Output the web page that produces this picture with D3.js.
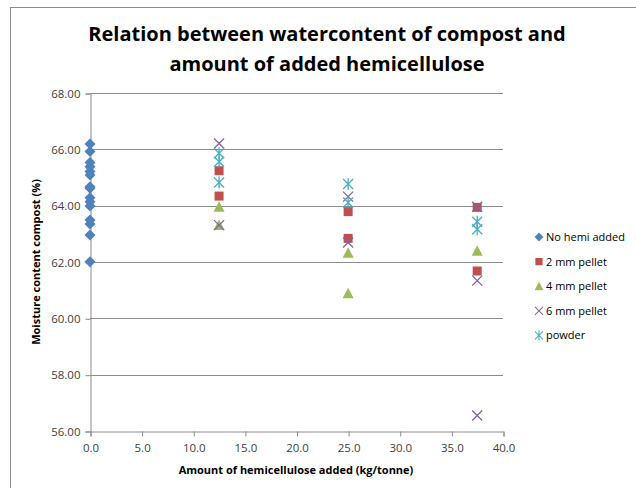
<!DOCTYPE html>
<html>
<head>
<meta charset="utf-8">
<script src="https://cdn.jsdelivr.net/npm/d3@7"></script>
<style>
  body { margin: 0; background: #fff; }
  svg { display: block; font-family: "Open Sans", "Liberation Sans", sans-serif; }
</style>
</head>
<body>
<div id="chart"></div>
<script>
const width = 636;
const height = 488;

// data
const seriesNames = ["No hemi added", "2 mm pellet", "4 mm pellet", "6 mm pellet", "powder"];
const seriesColors = ["#4F81BD", "#C0504D", "#9BBB59", "#8064A2", "#4BACC6"];
const seriesShapes = ["diamond", "square", "triangle", "x", "star"];

const noHemi = [[0, 66.19], [0, 65.92], [0, 65.53], [0, 65.38], [0, 65.21], [0, 65.09], [0, 64.67], [0, 64.62],
  [0, 64.28], [0, 64.14], [0, 63.99], [0, 63.49], [0, 63.35], [0, 62.96], [0, 62.01]];
const pellet2 = [[12.5, 65.24], [12.5, 64.34], [25, 63.79], [25, 62.84], [37.5, 63.94], [37.5, 61.68]];
const pellet4 = [[12.5, 63.96], [12.5, 63.31], [25, 62.33], [25, 60.89], [37.5, 62.40]];
const pellet6 = [[12.5, 66.21], [12.5, 63.31], [25, 64.32], [25, 62.69], [37.5, 63.96], [37.5, 61.34], [37.5, 56.55]];
const powder = [[12.5, 65.86], [12.5, 65.56], [12.5, 64.82], [25, 64.77], [25, 64.11], [37.5, 63.43], [37.5, 63.16]];
const allSeries = [noHemi, pellet2, pellet4, pellet6, powder];

const xTicks = [0, 5, 10, 15, 20, 25, 30, 35, 40];
const yTicks = [56, 58, 60, 62, 64, 66, 68];

const margin = { left: 90, right: 133, top: 93, bottom: 57 };

const svg = d3.select("#chart").append("svg")
    .attr("width", width)
    .attr("height", height);

// outer chart frame
svg.append("rect")
    .attr("x", 10.5).attr("y", 7.5)
    .attr("width", 640).attr("height", 500)
    .attr("fill", "none").attr("stroke", "#8c8c8c");

const x = d3.scaleLinear().domain([0, 40]).range([margin.left, width - margin.right]);
const y = d3.scaleLinear().domain([56, 68]).range([height - margin.bottom, margin.top]);

// gridlines
svg.append("g").selectAll("line")
    .data(yTicks.slice(1))
    .join("line")
    .attr("x1", margin.left).attr("x2", width - margin.right)
    .attr("y1", d => Math.round(y(d)) + 0.5).attr("y2", d => Math.round(y(d)) + 0.5)
    .attr("stroke", "#8c8c8c");

const yAxis = svg.append("g")
    .attr("transform", `translate(${margin.left + 0.5},0.5)`)
    .call(d3.axisLeft(y).tickValues(yTicks).tickSize(5).tickPadding(5).tickFormat(d3.format(".2f")));
const xAxis = svg.append("g")
    .attr("transform", `translate(0.5,${height - margin.bottom + 0.5})`)
    .call(d3.axisBottom(x).tickValues(xTicks).tickSize(5).tickPadding(7).tickFormat(d3.format(".1f")));

[xAxis, yAxis].forEach(a => {
  a.select(".domain").attr("stroke", "#8c8c8c");
  a.selectAll(".tick line").attr("stroke", "#8c8c8c");
  a.selectAll("text").attr("font-size", 11.5).attr("fill", "#404040")
      .attr("font-family", "'Open Sans', sans-serif");
});

function drawMarker(g, shape, color) {
  if (shape === "diamond") {
    g.append("path").attr("d", "M0,-5.5L5.5,0L0,5.5L-5.5,0Z").attr("fill", color);
  } else if (shape === "square") {
    g.append("rect").attr("x", -4.5).attr("y", -4.5).attr("width", 9).attr("height", 9).attr("fill", color);
  } else if (shape === "triangle") {
    g.append("path").attr("d", "M0,-5.5L5.5,5L-5.5,5Z").attr("fill", color);
  } else if (shape === "x") {
    g.append("path").attr("d", "M-5,-5L5,5M5,-5L-5,5").attr("stroke", color).attr("stroke-width", 1.3).attr("fill", "none");
  } else {
    g.append("path").attr("d", "M-5,-5L5,5M5,-5L-5,5M0,-6L0,6").attr("stroke", color).attr("stroke-width", 1.3).attr("fill", "none");
  }
}

allSeries.forEach((data, i) => {
  svg.append("g").selectAll("g")
      .data(data)
      .join("g")
      .attr("transform", d => `translate(${x(d[0])},${y(d[1])})`)
      .each(function() { drawMarker(d3.select(this), seriesShapes[i], seriesColors[i]); });
});

// title
const title = svg.append("text")
    .attr("text-anchor", "middle")
    .attr("font-size", 20).attr("font-weight", "bold").attr("fill", "#000")
    .attr("font-family", "'Open Sans', sans-serif");
title.append("tspan").attr("x", 327).attr("y", 41).text("Relation between watercontent of compost and");
title.append("tspan").attr("x", 327).attr("y", 71).text("amount of added hemicellulose");

// axis titles
svg.append("text")
    .attr("x", 296).attr("y", 474)
    .attr("text-anchor", "middle")
    .attr("font-size", 11).attr("font-weight", "bold")
    .text("Amount of hemicellulose added (kg/tonne)");
svg.append("text")
    .attr("transform", "translate(40,262) rotate(-90)")
    .attr("text-anchor", "middle")
    .attr("font-size", 11).attr("font-weight", "bold")
    .text("Moisture content compost (%)");

// legend
const legend = svg.append("g").selectAll("g")
    .data(seriesNames)
    .join("g")
    .attr("transform", (d, i) => `translate(539,${237 + i * 24.6})`);
legend.each(function(d, i) {
  const g = d3.select(this);
  const m = g.append("g").attr("transform", "scale(0.8)");
  drawMarker(m, seriesShapes[i], seriesColors[i]);
  g.append("text").attr("x", 7).attr("y", 4)
      .attr("font-size", 11).attr("fill", "#000")
      .text(d);
});
</script>
</body>
</html>
